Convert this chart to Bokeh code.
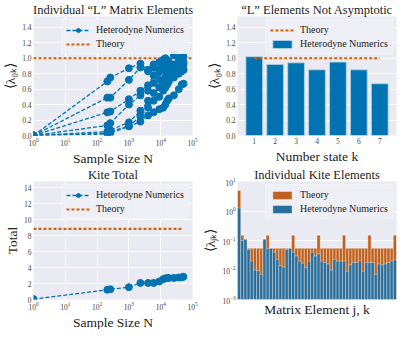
from bokeh.plotting import figure
from bokeh.layouts import gridplot
from bokeh.models import Range1d, FixedTicker, Legend, LegendItem, PrintfTickFormatter, Title
from bokeh.embed import file_html
from bokeh.resources import INLINE

# ---------------- data ----------------
sample_sizes = [1, 210, 260, 1000, 2300, 4000, 6000, 9000, 12000, 14000, 16000, 18000, 26000, 37000, 46000, 52000]

l_k1 = [0.0, 0.70, 0.75, 0.87, 0.93, 0.85, 0.92, 0.95, 0.98, 1.00, 0.97, 0.95, 1.04, 1.00, 1.02, 1.02]
l_k2 = [0.0, 0.49, 0.49, 0.72, 0.88, 0.83, 0.88, 0.85, 0.90, 0.95, 0.93, 0.88, 0.90, 0.93, 0.95, 0.92]
l_k3 = [0.0, 0.30, 0.31, 0.47, 0.58, 0.65, 0.78, 0.82, 0.85, 0.88, 0.90, 0.88, 0.92, 0.95, 0.92, 0.94]
l_k4 = [0.0, 0.13, 0.16, 0.40, 0.52, 0.58, 0.68, 0.72, 0.70, 0.75, 0.78, 0.75, 0.80, 0.83, 0.84, 0.85]
l_k5 = [0.0, 0.05, 0.07, 0.17, 0.32, 0.45, 0.55, 0.62, 0.70, 0.75, 0.80, 0.82, 0.88, 0.92, 0.95, 0.95]
l_k6 = [0.0, 0.03, 0.05, 0.12, 0.25, 0.36, 0.45, 0.50, 0.58, 0.62, 0.66, 0.70, 0.75, 0.80, 0.83, 0.85]
l_k7 = [0.0, 0.02, 0.03, 0.12, 0.18, 0.26, 0.30, 0.34, 0.36, 0.40, 0.45, 0.48, 0.52, 0.60, 0.66, 0.67]
l_series = [l_k1, l_k2, l_k3, l_k4, l_k5, l_k6, l_k7]
l_theory = 1.0

number_states = [1, 2, 3, 4, 5, 6, 7]
l_final = [1.02, 0.92, 0.94, 0.85, 0.95, 0.85, 0.67]

kite_total = [0.05, 1.22, 1.28, 1.55, 2.08, 2.08, 2.08, 2.27, 2.55, 2.65, 2.68, 2.70, 2.70, 2.75, 2.78, 2.85]
kite_theory = 8.85

kite_index = list(range(50))
kite_theory_el = [5.0, 0.15, 0.055, 0.055, 0.055, 0.055, 0.055, 0.055, 0.055, 0.15,
                  0.055, 0.055, 0.055, 0.055, 0.055, 0.055, 0.055, 0.15, 0.055, 0.055,
                  0.055, 0.055, 0.055, 0.055, 0.055, 0.15, 0.055, 0.055, 0.055, 0.055,
                  0.055, 0.055, 0.055, 0.15, 0.055, 0.055, 0.055, 0.055, 0.055, 0.055,
                  0.055, 0.15, 0.055, 0.055, 0.055, 0.055, 0.055, 0.055, 0.055, 0.15]
kite_numeric_el = [1.26, 0.10, 0.11, 0.050, 0.020, 0.010, 0.0095, 0.007, 0.11, 0.054,
                   0.054, 0.040, 0.023, 0.014, 0.0127, 0.050, 0.054, 0.040, 0.030, 0.020,
                   0.017, 0.012, 0.020, 0.040, 0.030, 0.035, 0.020, 0.018, 0.016, 0.010,
                   0.023, 0.020, 0.020, 0.020, 0.009, 0.015, 0.018, 0.018, 0.020, 0.009,
                   0.018, 0.018, 0.018, 0.007, 0.016, 0.015, 0.016, 0.018, 0.020, 0.022]

# ---------------- style ----------------
BG = "#eaeaf2"
BLUE = "#0173b2"
ORANGE = "#d55e00"
BLUE2 = "#2a6e9c"
ORANGE2 = "#c0621f"
SERIF = "Liberation Serif"


def style(p, title, xlabel):
    p.title.text = title
    p.title.text_font = SERIF
    p.title.text_font_size = "12.5px"
    p.title.text_font_style = "normal"
    p.title.align = "center"
    p.title.standoff = 0
    p.title.text_color = "#222222"
    p.background_fill_color = BG
    p.border_fill_color = "white"
    p.outline_line_color = None
    for ax in p.axis:
        ax.axis_line_color = None
        ax.major_tick_line_color = None
        ax.minor_tick_line_color = None
        ax.major_tick_out = 0
        ax.major_tick_in = 0
        ax.minor_tick_out = 0
        ax.major_label_text_font = SERIF
        ax.major_label_text_font_size = "7.5px"
        ax.major_label_text_color = "#444444"
        ax.major_label_standoff = 2
        ax.axis_label_text_font = SERIF
        ax.axis_label_text_font_size = "13.5px"
        ax.axis_label_text_font_style = "normal"
        ax.axis_label_text_color = "#222222"
        ax.axis_label_standoff = 1
    for g in p.grid:
        g.grid_line_color = "white"
        g.grid_line_width = 1
    p.xgrid.minor_grid_line_color = None
    p.ygrid.minor_grid_line_color = None
    xt = Title(text=xlabel, align="center", text_font=SERIF, text_font_size="13.5px",
               text_font_style="normal", text_color="#222222", standoff=0, offset=0)
    p.add_layout(xt, "below")


def make_legend(p, items):
    lg = Legend(items=items, location="top_right")
    lg.label_text_font = SERIF
    lg.label_text_font_size = "10px"
    lg.label_text_color = "#222222"
    lg.glyph_width = 24
    lg.glyph_height = 10
    lg.label_height = 10
    lg.spacing = 3
    lg.padding = 4
    lg.margin = 3
    lg.label_standoff = 6
    lg.background_fill_color = "#eeeef5"
    lg.background_fill_alpha = 0.9
    lg.border_line_color = "#f7f7fa"
    lg.border_line_width = 1
    p.add_layout(lg)


# ---------------- top left ----------------
p1 = figure(width=200, height=165, x_axis_type="log", output_backend="svg", toolbar_location=None,
            x_range=Range1d(1, 1e5), y_range=Range1d(0, 1.54),
            min_border_left=28, min_border_right=8, min_border_top=4, min_border_bottom=4)
style(p1, "Individual \u201cL\u201d Matrix Elements", "Sample Size N")
p1.yaxis.ticker = FixedTicker(ticks=[0.0, 0.2, 0.4, 0.6, 0.8, 1.0, 1.2, 1.4])
p1.yaxis.formatter = PrintfTickFormatter(format="%.1f")
p1.yaxis.axis_label = "\u27e8\u03bb\u2080\u2096\u27e9"
th1 = p1.line([1, 1e5], [l_theory, l_theory], line_color=ORANGE, line_width=2.2, line_dash="3 2")
ln1 = None
sc1 = None
for s in l_series:
    r_l = p1.line(sample_sizes, s, line_color=BLUE, line_width=1.3, line_dash="4 2")
    r_s = p1.scatter(sample_sizes, s, size=7, fill_color=BLUE, line_color=BLUE)
    if ln1 is None:
        ln1, sc1 = r_l, r_s
make_legend(p1, [LegendItem(label="Heterodyne Numerics", renderers=[ln1, sc1]),
                 LegendItem(label="Theory", renderers=[th1])])

# ---------------- top right ----------------
p2 = figure(width=199, height=165, output_backend="svg", toolbar_location=None,
            x_range=Range1d(0.2, 7.8), y_range=Range1d(0, 1.54),
            min_border_left=30, min_border_right=3, min_border_top=4, min_border_bottom=4)
style(p2, "\u201cL\u201d Elements Not Asymptotic", "Number state k")
p2.yaxis.ticker = FixedTicker(ticks=[0.0, 0.2, 0.4, 0.6, 0.8, 1.0, 1.2, 1.4])
p2.yaxis.formatter = PrintfTickFormatter(format="%.1f")
p2.xaxis.ticker = FixedTicker(ticks=number_states)
p2.xgrid.grid_line_color = None
p2.yaxis.axis_label = "\u27e8\u03bb\u2080\u2096\u27e9"
b2 = p2.vbar(x=number_states, top=l_final, width=0.8, bottom=0, fill_color=BLUE,
             line_color="#b9d3e6", line_width=0.8)
th2 = p2.line([number_states[0], number_states[-1]], [l_theory, l_theory], line_color=ORANGE,
              line_width=2.2, line_dash="3 2")
make_legend(p2, [LegendItem(label="Theory", renderers=[th2]),
                 LegendItem(label="Heterodyne Numerics", renderers=[b2])])

# ---------------- bottom left ----------------
p3 = figure(width=200, height=164, x_axis_type="log", output_backend="svg", toolbar_location=None,
            x_range=Range1d(1, 1e5), y_range=Range1d(0, 14.8),
            min_border_left=28, min_border_right=8, min_border_top=4, min_border_bottom=4)
style(p3, "Kite Total", "Sample Size N")
p3.yaxis.ticker = FixedTicker(ticks=[0, 2, 4, 6, 8, 10, 12, 14])
p3.yaxis.axis_label = "Total"
th3 = p3.line([1, sample_sizes[-1]], [kite_theory, kite_theory], line_color=ORANGE, line_width=2.2,
              line_dash="3 2")
ln3 = p3.line(sample_sizes, kite_total, line_color=BLUE, line_width=1.3, line_dash="4 2")
sc3 = p3.scatter(sample_sizes, kite_total, size=7, fill_color=BLUE, line_color=BLUE)
make_legend(p3, [LegendItem(label="Heterodyne Numerics", renderers=[ln3, sc3]),
                 LegendItem(label="Theory", renderers=[th3])])

# ---------------- bottom right ----------------
p4 = figure(width=199, height=164, y_axis_type="log", output_backend="svg", toolbar_location=None,
            x_range=Range1d(-0.5, 49.5), y_range=Range1d(1e-3, 10),
            min_border_left=30, min_border_right=3, min_border_top=4, min_border_bottom=4)
style(p4, "Individual Kite Elements", "Matrix Element j, k")
p4.xaxis.ticker = FixedTicker(ticks=[])
p4.xgrid.grid_line_color = None
p4.yaxis.axis_label = "\u27e8\u03bb\u2c7c\u2096\u27e9"
b4t = p4.vbar(x=kite_index, top=kite_theory_el, bottom=1e-3, width=1.0, fill_color=ORANGE2,
              line_color="white", line_alpha=0.45, line_width=0.8)
b4n = p4.vbar(x=kite_index, top=kite_numeric_el, bottom=1e-3, width=1.0, fill_color=BLUE2,
              line_color="white", line_alpha=0.45, line_width=0.8)
make_legend(p4, [LegendItem(label="Theory", renderers=[b4t]),
                 LegendItem(label="Heterodyne Numerics", renderers=[b4n])])

grid = gridplot([[p1, p2], [p3, p4]], toolbar_location=None)

open("out.html", "w").write(file_html(grid, INLINE))
